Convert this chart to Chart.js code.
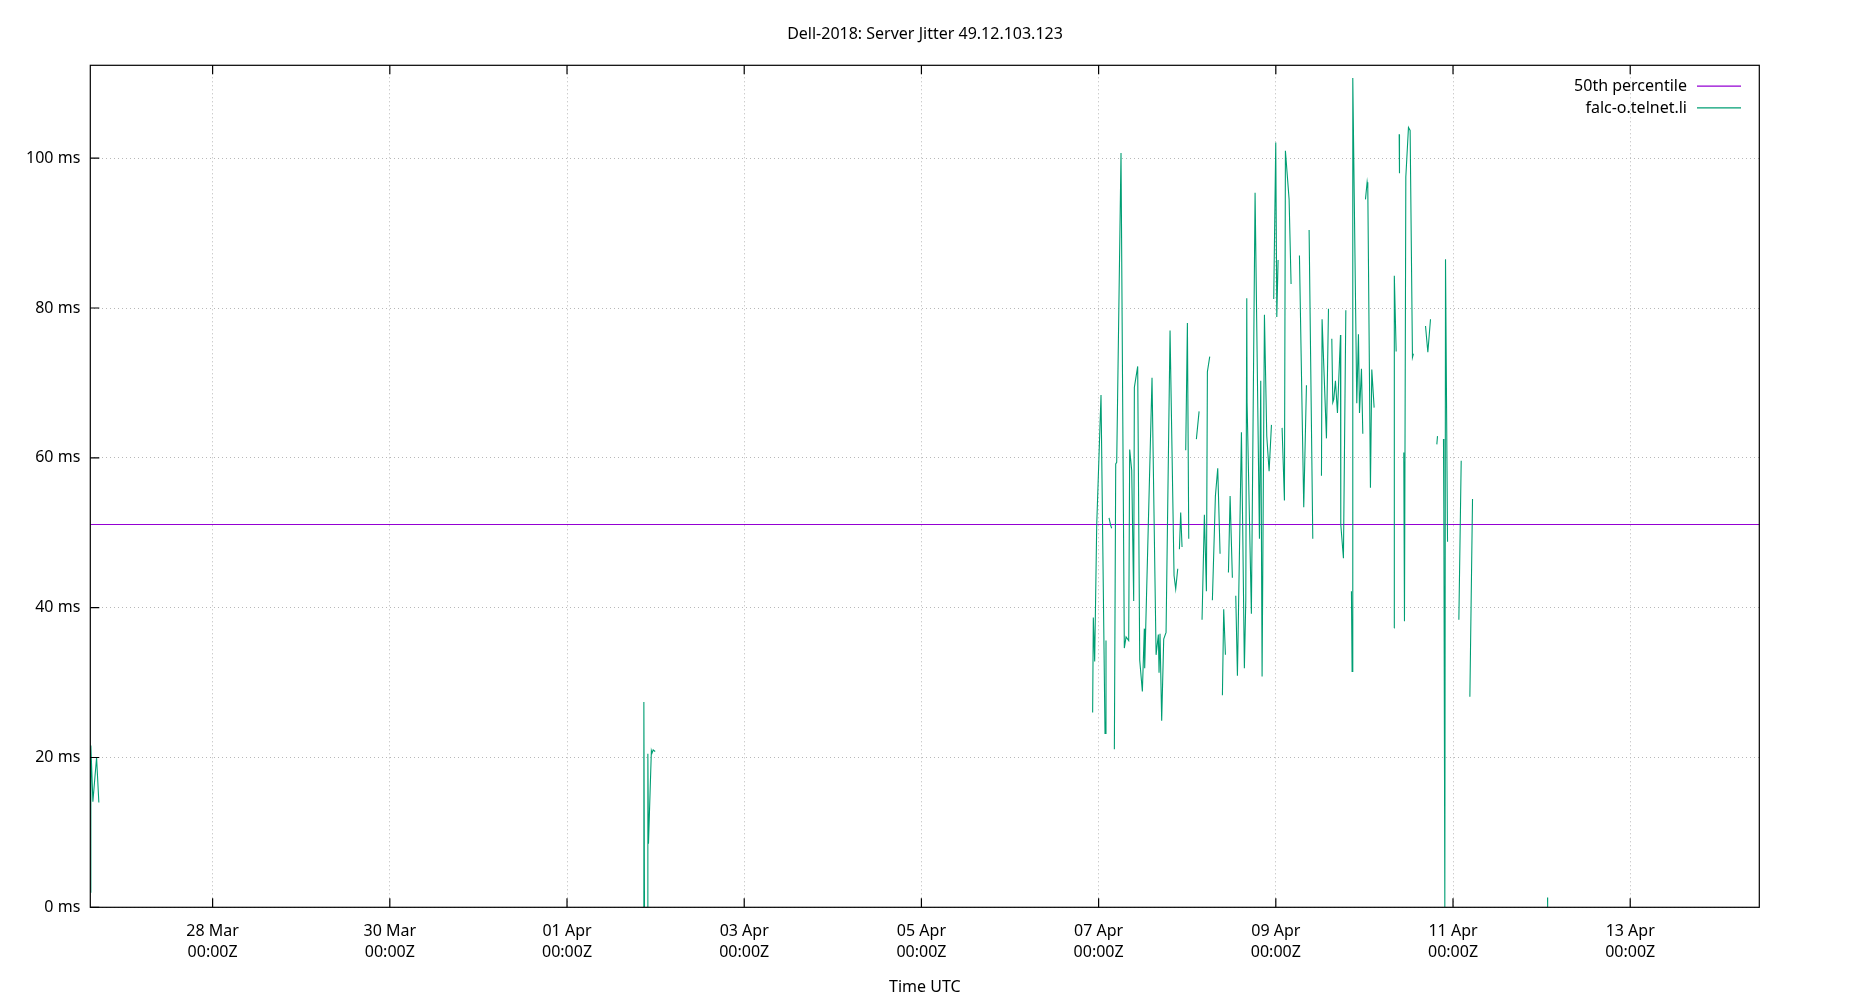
<!DOCTYPE html>
<html>
<head>
<meta charset="utf-8">
<script src="https://cdn.jsdelivr.net/npm/chart.js@4.4.1/dist/chart.umd.min.js"></script>
<style>
html,body{margin:0;padding:0;background:#fff;}
#c{display:block;}
</style>
</head>
<body>
<canvas id="c" width="1850" height="1000" style="width:1850px;height:1000px"></canvas>
<script>
const chartTitle = "Dell-2018: Server Jitter 49.12.103.123";
const xAxisTitle = "Time UTC";
const seriesNames = ["50th percentile", "falc-o.telnet.li"];
const seriesColors = ["#9400d3", "#009e73"];
const YEAR = "2024";
const xRange = ["03-26T14:52", "04-14T10:58"];
const xTickDates = ["03-28T00:00","03-30T00:00","04-01T00:00","04-03T00:00","04-05T00:00","04-07T00:00","04-09T00:00","04-11T00:00","04-13T00:00"];
const xTickSubLabel = "00:00Z";
const monthNames = ["Jan","Feb","Mar","Apr","May","Jun","Jul","Aug","Sep","Oct","Nov","Dec"];
const yTicks = [0, 20, 40, 60, 80, 100];
const yUnit = " ms";
const yMax = 112.4;
const medianMs = 51.1;

// null entries = gaps in the series
const sampleTimes = [
"03-26T14:53","03-26T15:01","03-26T15:34","03-26T16:34","03-26T17:11",null,
"04-01T20:37","04-01T20:49","04-01T20:59",null,
"04-01T21:49","04-01T21:54","04-01T22:04","04-01T22:51","04-01T23:02","04-01T23:20","04-01T23:53",null,
"04-06T22:23","04-06T22:34","04-06T22:56","04-06T23:29","04-07T00:39","04-07T01:44","04-07T02:00",null,
"04-07T02:49","04-07T03:16","04-07T03:32",null,
"04-07T04:16","04-07T04:38","04-07T04:54","04-07T06:04","04-07T06:58","04-07T07:26","04-07T08:09","04-07T08:25",
"04-07T08:58","04-07T09:30","04-07T09:41","04-07T10:35","04-07T11:08","04-07T11:51","04-07T12:23","04-07T12:29",
"04-07T14:28","04-07T15:34","04-07T16:11","04-07T16:22","04-07T16:38","04-07T17:05","04-07T17:38","04-07T18:16",
"04-07T19:21","04-07T20:26","04-07T20:53","04-07T21:26",null,
"04-07T21:53","04-07T22:14","04-07T22:36",null,
"04-07T23:36","04-08T00:03","04-08T00:25",null,
"04-08T02:29","04-08T03:13",null,
"04-08T04:01","04-08T04:39","04-08T05:12","04-08T05:28","04-08T06:06",null,
"04-08T06:49","04-08T07:38","04-08T08:16","04-08T08:54",null,
"04-08T09:32","04-08T09:53","04-08T10:21",null,
"04-08T11:10","04-08T11:37","04-08T12:14",null,
"04-08T13:09","04-08T13:36","04-08T14:41","04-08T15:02","04-08T15:29","04-08T15:52","04-08T16:08","04-08T16:13",
"04-08T17:23","04-08T18:23","04-08T19:34","04-08T19:55","04-08T20:17","04-08T20:55","04-08T21:33","04-08T22:11","04-08T22:49",null,
"04-08T23:26","04-08T23:59","04-09T00:16","04-09T00:37",null,
"04-09T01:42","04-09T02:20","04-09T02:36","04-09T03:36","04-09T04:08",null,
"04-09T06:24","04-09T07:34","04-09T08:18",null,
"04-09T09:01","04-09T10:01",null,
"04-09T12:22","04-09T12:32","04-09T13:43","04-09T14:16",null,
"04-09T15:10","04-09T15:26","04-09T15:42","04-09T16:09","04-09T16:42","04-09T17:31","04-09T17:36","04-09T18:19","04-09T18:58",null,
"04-09T20:29","04-09T20:40","04-09T20:51","04-09T21:56","04-09T22:23","04-09T22:40","04-09T23:12","04-09T23:34",null,
"04-10T00:17","04-10T00:44","04-10T00:55","04-10T01:38","04-10T02:00","04-10T02:38",null,
"04-10T08:03","04-10T08:06","04-10T08:36",null,
"04-10T09:25","04-10T09:30",null,
"04-10T10:40","04-10T10:51","04-10T11:13","04-10T11:56","04-10T12:23","04-10T13:01","04-10T13:17",null,
"04-10T16:33","04-10T17:11","04-10T17:54",null,
"04-10T19:37","04-10T19:48",null,
"04-10T21:25","04-10T21:31","04-10T21:47","04-10T21:58","04-10T22:31",null,
"04-11T01:35","04-11T02:13",null,
"04-11T04:34","04-11T05:17",null,
"04-12T01:36","04-12T01:38"
];
const jitterMs = [
2.0,21.6,14.1,20.0,14.0,null,
0,27.4,0,null,
0,20.5,8.5,20.9,20.6,21.0,20.8,null,
26.0,38.7,32.8,51.0,68.4,23.2,35.6,null,
52.0,51.0,50.6,null,
21.1,59.2,59.4,100.7,34.6,36.1,35.6,61.1,
58.3,40.9,69.4,72.2,33.0,28.8,37.2,31.9,
70.7,33.7,36.4,31.3,36.5,24.9,35.8,36.7,
77.0,44.3,42.5,45.2,null,
47.8,52.7,48.1,null,
61.0,78.0,49.2,null,
62.5,66.2,null,
38.4,52.4,42.2,71.5,73.5,null,
41.0,54.9,58.6,47.2,null,
28.3,39.8,33.7,null,
44.7,54.9,44.0,null,
41.6,30.9,63.4,50.6,31.9,41.0,81.3,67.4,
39.2,95.4,49.2,70.3,30.8,79.1,62.9,58.2,64.4,null,
81.2,102.1,78.8,86.4,null,
64.0,54.3,101.0,94.5,83.2,null,
87.0,53.4,69.7,null,
90.4,49.2,null,
57.6,78.5,62.6,79.9,null,
75.9,67.4,67.8,70.3,66.0,76.4,51.1,46.6,79.7,null,
42.2,31.5,110.7,67.3,76.5,66.0,71.9,63.2,null,
94.5,96.8,96.0,56.0,71.8,66.7,null,
37.3,84.3,74.2,null,
103.2,98.0,null,
60.7,38.2,97.5,104.1,103.7,73.4,73.9,null,
77.6,74.1,78.5,null,
61.8,62.9,null,
62.5,53.3,0,86.5,48.8,null,
38.4,59.6,null,
28.1,54.5,null,
1.3,0
];

const FONT = "'Noto Sans', 'Open Sans', sans-serif";
const toMs = s => Date.parse(YEAR + "-" + s + ":00Z");

const jitterPoints = [];
let lastX = toMs(xRange[0]);
for (let i = 0; i < jitterMs.length; i++) {
  const x = sampleTimes[i] === null ? lastX : toMs(sampleTimes[i]);
  jitterPoints.push({ x: x, y: jitterMs[i] });
  lastX = x;
}
const medianPoints = [
  { x: toMs(xRange[0]), y: medianMs },
  { x: toMs(xRange[1]), y: medianMs }
];

function dayLabel(v) {
  const d = new Date(v);
  return String(d.getUTCDate()).padStart(2, "0") + " " + monthNames[d.getUTCMonth()];
}

const framePlugin = {
  id: "gnuplotFrame",
  afterDatasetsDraw(chart) {
    const { ctx, chartArea: a, scales } = chart;
    const xs = scales.x, ys = scales.y;
    ctx.save();
    ctx.strokeStyle = "#000";
    ctx.lineWidth = 1.2;
    ctx.setLineDash([]);
    ctx.strokeRect(a.left, a.top, a.right - a.left, a.bottom - a.top);
    ctx.beginPath();
    xs.ticks.forEach(t => {
      const px = xs.getPixelForValue(t.value);
      ctx.moveTo(px, a.bottom); ctx.lineTo(px, a.bottom - 9);
      ctx.moveTo(px, a.top); ctx.lineTo(px, a.top + 9);
    });
    ys.ticks.forEach(t => {
      const py = ys.getPixelForValue(t.value);
      ctx.moveTo(a.left, py); ctx.lineTo(a.left + 9, py);
    });
    ctx.stroke();

    // key (legend), gnuplot style: text right-aligned, sample line to its right
    ctx.font = "16px " + FONT;
    ctx.textAlign = "right";
    ctx.textBaseline = "middle";
    chart.data.datasets.forEach((ds, i) => {
      const yy = a.top + 21.4 + i * 21.6;
      ctx.fillStyle = "#000";
      ctx.fillText(ds.label, a.right - 72.3, yy);
      ctx.strokeStyle = ds.borderColor;
      ctx.lineWidth = 1.2;
      ctx.beginPath();
      ctx.moveTo(a.right - 62.3, yy - 0.5);
      ctx.lineTo(a.right - 18.3, yy - 0.5);
      ctx.stroke();
    });
    ctx.restore();
  }
};

new Chart(document.getElementById("c"), {
  type: "line",
  data: {
    datasets: [
      { label: seriesNames[0], data: medianPoints, borderColor: seriesColors[0], borderWidth: 1.2,
        pointRadius: 0, order: 2 },
      { label: seriesNames[1], data: jitterPoints, borderColor: seriesColors[1], borderWidth: 1.1,
        pointRadius: 0, spanGaps: false, tension: 0, order: 1 }
    ]
  },
  options: {
    responsive: false,
    animation: false,
    devicePixelRatio: 1,
    layout: { padding: 0 },
    plugins: {
      legend: { display: false },
      tooltip: { enabled: false },
      title: {
        display: true, text: chartTitle, color: "#000",
        font: { family: FONT, size: 16, weight: "normal", lineHeight: 1.2 },
        padding: { top: 24.4, bottom: 21.7 }
      }
    },
    scales: {
      x: {
        type: "linear",
        min: toMs(xRange[0]),
        max: toMs(xRange[1]),
        afterBuildTicks: s => { s.ticks = xTickDates.map(d => ({ value: toMs(d) })); },
        afterFit: s => { s.height = 92.7; },
        grid: { color: "#b8b8b8", lineWidth: 1, drawTicks: false },
        border: { display: false, dash: [1, 3] },
        ticks: {
          padding: 13, color: "#000", maxRotation: 0, autoSkip: false,
          font: { family: FONT, size: 16, lineHeight: 1.356 },
          callback: v => [dayLabel(v), xTickSubLabel]
        },
        title: {
          display: true, text: xAxisTitle, color: "#000",
          font: { family: FONT, size: 16, lineHeight: 1.2 },
          padding: { top: 0, bottom: 2.6 }
        }
      },
      y: {
        min: 0, max: yMax,
        afterBuildTicks: s => { s.ticks = yTicks.map(v => ({ value: v })); },
        afterFit: s => { s.width = 90.3; },
        grid: { color: "#b8b8b8", lineWidth: 1, drawTicks: false },
        border: { display: false, dash: [1, 3] },
        ticks: {
          padding: 10, color: "#000",
          font: { family: FONT, size: 16 },
          callback: v => v + yUnit
        }
      },
      yRight: {
        position: "right",
        min: 0, max: yMax,
        afterFit: s => { s.width = 90.7; },
        grid: { display: false, drawTicks: false },
        border: { display: false },
        ticks: { display: false }
      }
    }
  },
  plugins: [framePlugin]
});
</script>
</body>
</html>
